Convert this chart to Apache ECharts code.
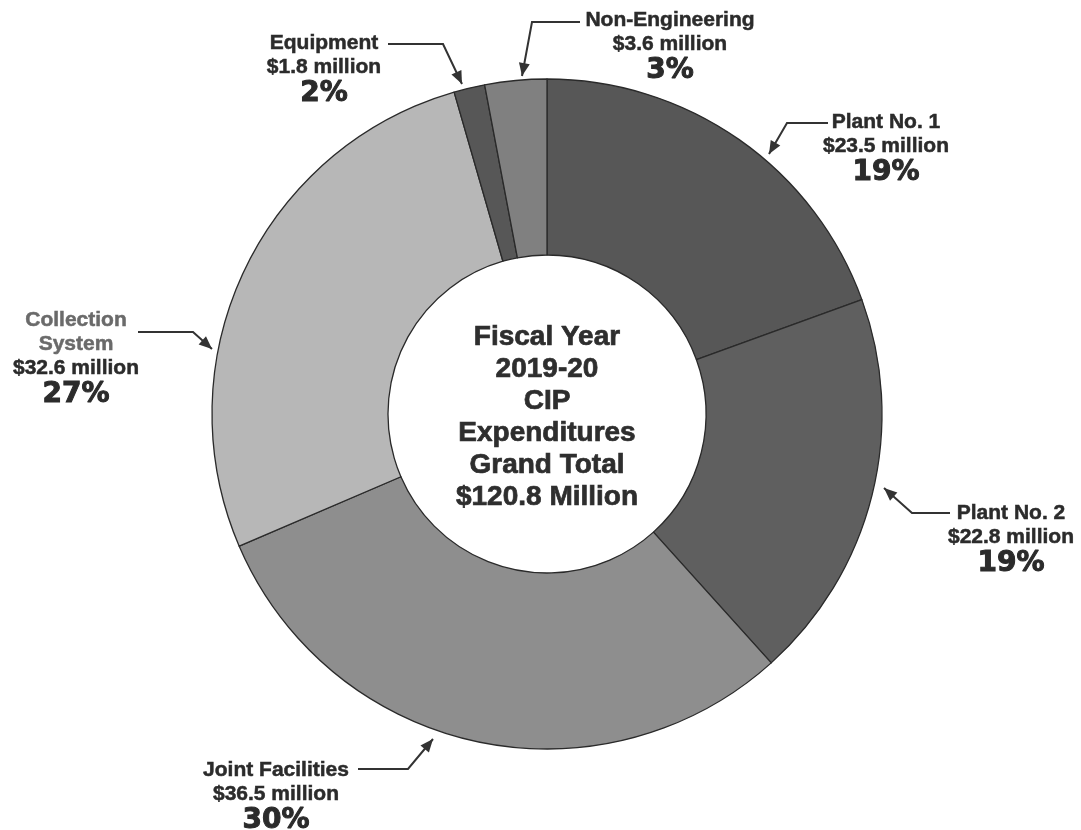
<!DOCTYPE html>
<html>
<head>
<meta charset="utf-8">
<script src="https://cdn.jsdelivr.net/npm/echarts@6/dist/echarts.min.js"></script>
<style>
html,body{margin:0;padding:0;background:#fff;}
#chart{width:1081px;height:830px;}
</style>
</head>
<body>
<div id="chart"></div>
<script>
// ---- data ----
var categories = ['Plant No. 1', 'Plant No. 2', 'Joint Facilities', 'Collection\nSystem', 'Equipment', 'Non-Engineering'];
var valuesMillion = [23.5, 22.8, 36.5, 32.6, 1.8, 3.6];
var percentLabels = ['19%', '19%', '30%', '27%', '2%', '3%'];
var centerTitle = ['Fiscal Year', '2019-20', 'CIP', 'Expenditures', 'Grand Total', '$120.8 Million'];

// ---- styling / layout (not data) ----
var sliceColors = ['#575757', '#5f5f5f', '#8e8e8e', '#b7b7b7', '#575757', '#808080'];
var nameColors = ['#2b2b2b', '#2b2b2b', '#2b2b2b', '#6a6a6a', '#2b2b2b', '#2b2b2b'];
var labelAnchors = [[886, 110], [1011, 501], [276, 758], [76, 308], [324, 31], [670, 8]];
var arrowPaths = [
  [[828, 123], [787, 123], [769, 154]],
  [[950, 513], [912, 513], [884, 488]],
  [[358, 769], [408, 769], [433, 739]],
  [[138, 332], [193, 332], [212, 349]],
  [[388, 44], [443, 44], [462, 84]],
  [[580, 22], [532, 22], [522, 76]]
];

var chart = echarts.init(document.getElementById('chart'), null, {renderer: 'canvas'});

var pieData = categories.map(function (c, i) {
  return {name: c, value: valuesMillion[i], itemStyle: {color: sliceColors[i]}};
});

var graphics = [];
var TXT = '#2b2b2b';
categories.forEach(function (c, i) {
  graphics.push({
    type: 'text',
    x: labelAnchors[i][0],
    y: labelAnchors[i][1],
    silent: true,
    style: {
      text: c.split('\n').map(function (s) { return '{n|' + s + '}'; }).join('\n') +
            '\n{v|$' + valuesMillion[i].toFixed(1) + ' million}\n{p|' + percentLabels[i] + '}',
      align: 'center',
      verticalAlign: 'top',
      rich: {
        n: {fontFamily: 'Liberation Sans, Arial, sans-serif', fontWeight: 'bold', fontSize: 21, lineHeight: 24, fill: nameColors[i], align: 'center', stroke: nameColors[i], lineWidth: 0.5},
        v: {fontFamily: 'Liberation Sans, Arial, sans-serif', fontWeight: 'bold', fontSize: 21, lineHeight: 25, fill: TXT, align: 'center', stroke: TXT, lineWidth: 0.5},
        p: {fontFamily: 'DejaVu Sans, sans-serif', fontWeight: 'bold', fontSize: 28, lineHeight: 28, fill: TXT, align: 'center', stroke: TXT, lineWidth: 1}
      }
    }
  });
  var pts = arrowPaths[i];
  graphics.push({
    type: 'polyline',
    silent: true,
    shape: {points: pts},
    style: {stroke: '#333', lineWidth: 2, fill: null}
  });
  // arrowhead
  var a = pts[pts.length - 2], b = pts[pts.length - 1];
  var dx = b[0] - a[0], dy = b[1] - a[1];
  var L = Math.sqrt(dx * dx + dy * dy);
  var ux = dx / L, uy = dy / L;
  var len = 13, w = 5.5;
  var bx = b[0] - ux * len, by = b[1] - uy * len;
  graphics.push({
    type: 'polygon',
    silent: true,
    shape: {points: [[b[0], b[1]], [bx - uy * w, by + ux * w], [bx + uy * w, by - ux * w]]},
    style: {fill: '#333'}
  });
});

graphics.push({
  type: 'text',
  x: 547,
  y: 417,
  silent: true,
  style: {
    text: centerTitle.join('\n'),
    align: 'center',
    verticalAlign: 'middle',
    fontFamily: 'Liberation Sans, Arial, sans-serif',
    fontWeight: 'bold',
    fontSize: 28,
    lineHeight: 32,
    fill: '#2e2e2e',
    stroke: '#2e2e2e',
    lineWidth: 0.7
  }
});

chart.setOption({
  backgroundColor: '#ffffff',
  animation: false,
  series: [{
    type: 'pie',
    center: [547, 414],
    radius: [159, 335],
    startAngle: 90,
    clockwise: true,
    silent: true,
    label: {show: false},
    labelLine: {show: false},
    itemStyle: {borderColor: '#2a2a2a', borderWidth: 1.3},
    data: pieData
  }],
  graphic: graphics
});
</script>
</body>
</html>
